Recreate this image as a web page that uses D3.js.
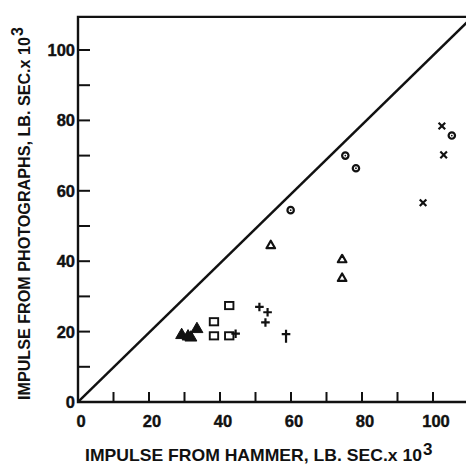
<!DOCTYPE html>
<html>
<head>
<meta charset="utf-8">
<script src="https://cdn.jsdelivr.net/npm/d3@7"></script>
<style>
  body { margin: 0; background: #fff; }
  text { font-family: "Liberation Sans", Arial, sans-serif; font-weight: bold; fill: #111; }
</style>
</head>
<body>
<div id="chart"></div>
<script>
// values (impulse, lb sec x 10^3)
const dotCircleX = [59.9, 75.3, 78.3, 105.3];
const dotCircleY = [54.5, 70.0, 66.4, 75.7];
const crossX = [102.5, 103.0, 97.2];
const crossY = [78.4, 70.2, 56.6];
const openTriX = [54.3, 74.4, 74.4];
const openTriY = [44.4, 40.4, 35.1];
const plusX = [51.1, 53.4, 52.8, 44.4];
const plusY = [27.0, 25.5, 22.6, 19.4];
const daggerX = [58.6];
const daggerY = [18.7];
const squareX = [42.6, 38.3, 38.3, 42.6];
const squareY = [27.4, 22.8, 18.8, 18.8];
const filledTriX = [29.2, 31.0, 31.8, 33.5];
const filledTriY = [19.0, 18.6, 18.3, 20.7];
const tickLabels = [0, 20, 40, 60, 80, 100];
const minorTicks = [10, 20, 30, 40, 50, 60, 70, 80, 90, 100];
const lineX = [0, 110];
const lineY = [0, 108.3];

const width = 466, height = 464;

const svg = d3.select("#chart")
    .append("svg")
    .attr("width", width)
    .attr("height", height);

const x = d3.scaleLinear().domain([0, 100]).range([78, 433]);
const y = d3.scaleLinear().domain([0, 100]).range([402, 50]);

const zip = (xs, ys) => xs.map((v, i) => [v, ys[i]]);

// clip for the diagonal
svg.append("clipPath").attr("id", "plotclip")
    .append("rect")
    .attr("x", x(0)).attr("y", y(109.4))
    .attr("width", width - x(0)).attr("height", y(0) - y(109.4));

// frame: left axis, bottom axis, top border
svg.append("path")
    .attr("d", `M${width},${y(0)}H${x(0)}V${y(109.4)}H${width}`)
    .attr("fill", "none")
    .attr("stroke", "#111")
    .attr("stroke-width", 2.4);

// y ticks point inward
svg.append("g").selectAll("line")
    .data(minorTicks)
    .join("line")
    .attr("x1", x(0)).attr("x2", x(0) + 12)
    .attr("y1", d => y(d)).attr("y2", d => y(d))
    .attr("stroke", "#111").attr("stroke-width", 2);

// x ticks point up
svg.append("g").selectAll("line")
    .data(minorTicks)
    .join("line")
    .attr("x1", d => x(d)).attr("x2", d => x(d))
    .attr("y1", y(0)).attr("y2", y(0) - 10)
    .attr("stroke", "#111").attr("stroke-width", 2);

// tick labels
svg.append("g").selectAll("text")
    .data(tickLabels)
    .join("text")
    .attr("x", 75)
    .attr("y", d => y(d))
    .attr("dy", "0.36em")
    .attr("text-anchor", "end")
    .attr("font-size", 16.5)
    .attr("stroke", "#111").attr("stroke-width", 0.4)
    .text(d => d);

svg.append("g").selectAll("text")
    .data(tickLabels)
    .join("text")
    .attr("x", d => x(d) + 3)
    .attr("y", 427)
    .attr("text-anchor", "middle")
    .attr("font-size", 16.5)
    .attr("stroke", "#111").attr("stroke-width", 0.4)
    .text(d => d);

// 1:1 line
svg.append("path")
    .datum(zip(lineX, lineY))
    .attr("d", d3.line().x(d => x(d[0])).y(d => y(d[1])))
    .attr("clip-path", "url(#plotclip)")
    .attr("fill", "none")
    .attr("stroke", "#111")
    .attr("stroke-width", 2.4);

const marks = svg.append("g").attr("stroke", "#111").attr("stroke-width", 2.2).attr("fill", "none");

// circles with a centre dot
marks.selectAll(".dc")
    .data(zip(dotCircleX, dotCircleY))
    .join("circle")
    .attr("class", "dc")
    .attr("cx", d => x(d[0])).attr("cy", d => y(d[1]))
    .attr("r", 3.2);
marks.selectAll(".dcc")
    .data(zip(dotCircleX, dotCircleY))
    .join("circle")
    .attr("class", "dcc")
    .attr("cx", d => x(d[0])).attr("cy", d => y(d[1]))
    .attr("r", 0.9).attr("fill", "#111").attr("stroke", "none");

// crosses
marks.selectAll(".cr")
    .data(zip(crossX, crossY))
    .join("path")
    .attr("class", "cr")
    .attr("d", d => { const cx = x(d[0]), cy = y(d[1]), a = 3.3;
        return `M${cx - a},${cy - a}L${cx + a},${cy + a}M${cx - a},${cy + a}L${cx + a},${cy - a}`; });

// open triangles
const tri = d3.symbol().type(d3.symbolTriangle).size(32);
marks.selectAll(".ot")
    .data(zip(openTriX, openTriY))
    .join("path")
    .attr("class", "ot")
    .attr("transform", d => `translate(${x(d[0])},${y(d[1])})`)
    .attr("d", tri)
    .attr("stroke-linejoin", "round");

// filled triangles
marks.selectAll(".ft")
    .data(zip(filledTriX, filledTriY))
    .join("path")
    .attr("class", "ft")
    .attr("transform", d => `translate(${x(d[0])},${y(d[1])})`)
    .attr("d", d3.symbol().type(d3.symbolTriangle).size(62))
    .attr("fill", "#111").attr("stroke-width", 1);

// squares
marks.selectAll(".sq")
    .data(zip(squareX, squareY))
    .join("rect")
    .attr("class", "sq")
    .attr("x", d => x(d[0]) - 4.2).attr("y", d => y(d[1]) - 3.6)
    .attr("width", 8.4).attr("height", 7.2)
    .attr("stroke-width", 1.9);

// plus signs
marks.selectAll(".pl")
    .data(zip(plusX, plusY))
    .join("path")
    .attr("class", "pl")
    .attr("d", d => { const cx = x(d[0]), cy = y(d[1]);
        return `M${cx - 4.3},${cy}H${cx + 4.3}M${cx},${cy - 4.3}V${cy + 4.3}`; });

// dagger-like plus with longer stem
marks.selectAll(".dg")
    .data(zip(daggerX, daggerY))
    .join("path")
    .attr("class", "dg")
    .attr("d", d => { const cx = x(d[0]), cy = y(d[1]);
        return `M${cx - 4.3},${cy - 2}H${cx + 4.3}M${cx},${cy - 6.5}V${cy + 6.5}`; });

// x axis title
svg.append("text")
    .attr("x", 85).attr("y", 461)
    .attr("font-size", 17)
    .attr("textLength", 337)
    .attr("lengthAdjust", "spacingAndGlyphs")
    .text("IMPULSE FROM HAMMER, LB. SEC.x 10");
svg.append("text")
    .attr("x", 423).attr("y", 455)
    .attr("font-size", 17)
    .text("3");

// y axis title
svg.append("text")
    .attr("transform", "translate(30,400) rotate(-90)")
    .attr("font-size", 16)
    .attr("textLength", 363)
    .attr("lengthAdjust", "spacingAndGlyphs")
    .text("IMPULSE FROM PHOTOGRAPHS, LB. SEC.x 10");
svg.append("text")
    .attr("transform", "translate(23,36) rotate(-90)")
    .attr("font-size", 16)
    .text("3");
</script>
</body>
</html>
